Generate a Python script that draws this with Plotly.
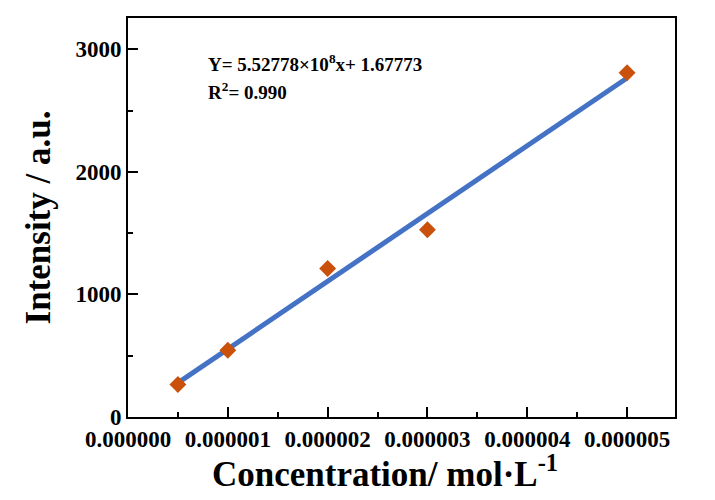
import plotly.graph_objects as go

conc = [5e-7, 1e-6, 2e-6, 3e-6, 5e-6]
intensity = [265, 545, 1212, 1527, 2808]
slope = 5.52778e8
intercept = 1.67773
fit_x = [5e-7, 5e-6]
fit_y = [slope * x + intercept for x in fit_x]

FONT = "Liberation Serif"

fig = go.Figure()
fig.add_trace(go.Scatter(x=fit_x, y=fit_y, mode="lines",
                         line=dict(color="#4472C4", width=5), showlegend=False))
fig.add_trace(go.Scatter(x=conc, y=intensity, mode="markers",
                         marker=dict(symbol="diamond", size=13, color="#C9510C"),
                         showlegend=False))

tickfont = dict(family=FONT, size=23, color="black", weight="bold")
axis_common = dict(showline=True, linecolor="black", linewidth=2, mirror=True,
                   ticks="inside", ticklen=10, tickwidth=2, tickcolor="black",
                   showgrid=False, zeroline=False, tickfont=tickfont)

fig.update_xaxes(range=[0, 5.48e-6], tickmode="array",
                 tickvals=[0, 1e-6, 2e-6, 3e-6, 4e-6, 5e-6],
                 ticktext=["0.000000", "0.000001", "0.000002", "0.000003", "0.000004", "0.000005"],
                 minor=dict(tickvals=[5e-7, 1.5e-6, 2.5e-6, 3.5e-6, 4.5e-6], ticks="inside",
                            ticklen=5, tickwidth=2, tickcolor="black"),
                 **axis_common)
fig.update_yaxes(range=[0, 3255], tickmode="array", tickvals=[0, 1000, 2000, 3000],
                 minor=dict(tickvals=[500, 1500, 2500], ticks="inside",
                            ticklen=5, tickwidth=2, tickcolor="black"),
                 title=dict(text="<b>Intensity / a.u.</b>",
                            font=dict(family=FONT, size=35, color="black"), standoff=14),
                 **axis_common)

PW, PH, L, T = 547, 399, 128, 18
fig.add_annotation(xref="paper", yref="paper", x=(385 - L) / PW, y=(417 - 471) / PH,
                   xanchor="center", yanchor="middle", showarrow=False,
                   text="<b>Concentration/ mol·L<sup>-1</sup></b>",
                   font=dict(family=FONT, size=35, color="black"))

fig.add_annotation(xref="paper", yref="paper", x=(206 - L) / PW, y=(417 - 63) / PH,
                   xanchor="left", yanchor="middle", showarrow=False,
                   text="<b>Y= 5.52778×10<sup>8</sup>x+ 1.67773</b>",
                   font=dict(family=FONT, size=19, color="black"))
fig.add_annotation(xref="paper", yref="paper", x=(206 - L) / PW, y=(417 - 91) / PH,
                   xanchor="left", yanchor="middle", showarrow=False,
                   text="<b>R<sup>2</sup>= 0.990</b>",
                   font=dict(family=FONT, size=19, color="black"))

fig.update_layout(width=715, height=500, margin=dict(l=L, r=40, t=T, b=83),
                  paper_bgcolor="white", plot_bgcolor="white",
                  font=dict(family=FONT, color="black"))

fig.write_html("out.html")
